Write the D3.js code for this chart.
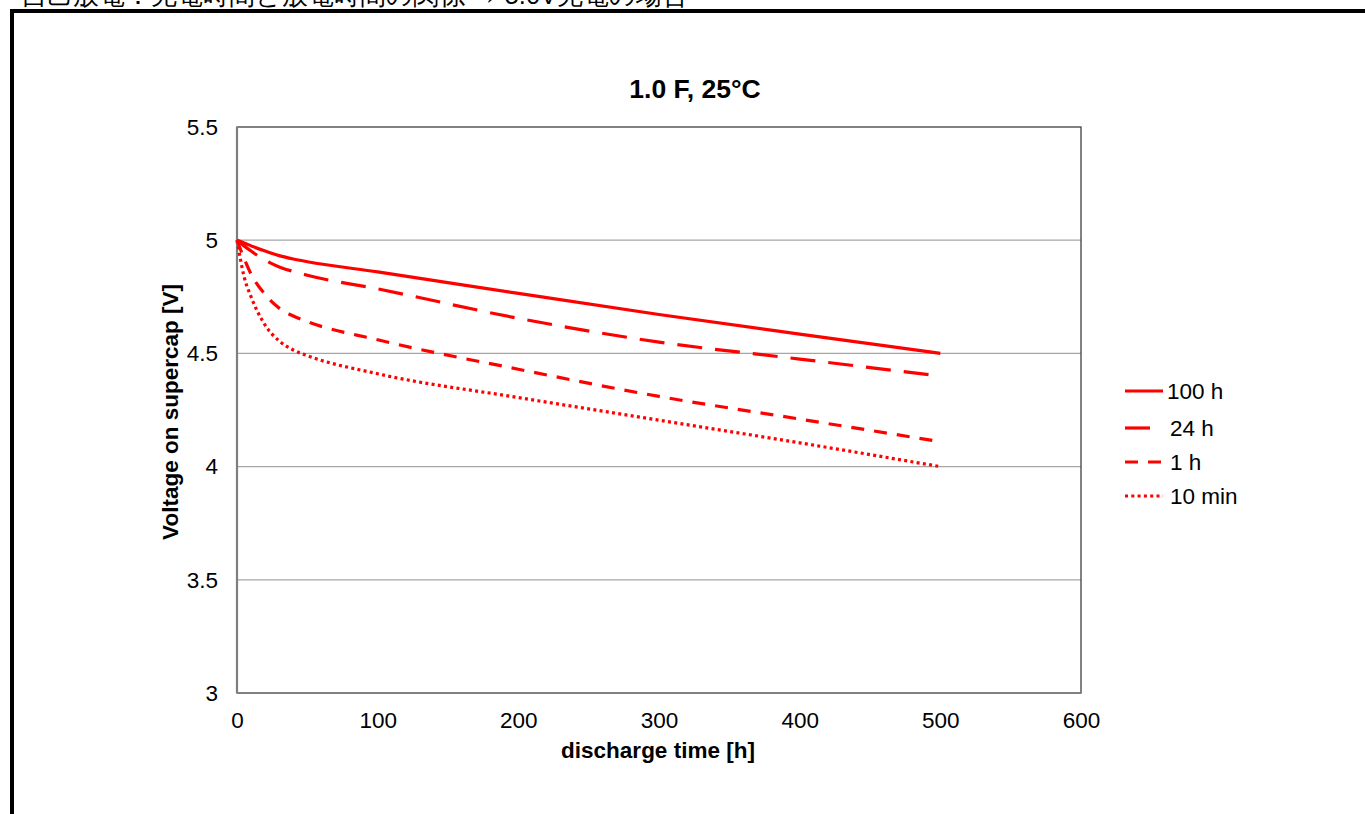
<!DOCTYPE html>
<html>
<head>
<meta charset="utf-8">
<script src="https://cdn.jsdelivr.net/npm/d3@7"></script>
<style>
  body { margin: 0; background: #fff; overflow: hidden; }
  text { font-family: "Liberation Sans", Arial, sans-serif; }
</style>
</head>
<body>
<div id="chart"></div>
<script>
const width = 1365;
const height = 814;

// hours of discharge
const hours = [0, 5, 10, 20, 30, 40, 50, 100, 200, 300, 400, 500];

// voltage for each charge time
const v100h = [5.0, 4.988, 4.975, 4.952, 4.932, 4.917, 4.905, 4.86, 4.765, 4.672, 4.585, 4.5];
const v24h = [5.0, 4.975, 4.952, 4.912, 4.882, 4.862, 4.845, 4.785, 4.655, 4.55, 4.475, 4.4];
const v1h = [5.0, 4.92, 4.85, 4.76, 4.70, 4.665, 4.64, 4.56, 4.43, 4.31, 4.21, 4.11];
const v10min = [5.0, 4.84, 4.75, 4.625, 4.555, 4.515, 4.49, 4.41, 4.305, 4.205, 4.105, 4.0];

const seriesNames = ["100 h", "24 h", "1 h", "10 min"];
const seriesValues = [v100h, v24h, v1h, v10min];
const dashes = [null, "25,13", "13,10", "3,3.3"];

const yTicks = [3, 3.5, 4, 4.5, 5, 5.5];
const xTicks = [0, 100, 200, 300, 400, 500, 600];

const svg = d3.select("#chart")
    .append("svg")
    .attr("width", width)
    .attr("height", height);

// cut-off caption and black frame at the top of the page
svg.append("text")
    .attr("x", 21)
    .attr("y", 4)
    .attr("font-family", "'Noto Sans CJK JP', sans-serif")
    .attr("font-size", 25.5)
    .attr("fill", "#000")
    .text("自己放電：充電時間と放電時間の関係 → 5.0V充電の場合");

svg.append("rect")
    .attr("x", 12)
    .attr("y", 11)
    .attr("width", 1400)
    .attr("height", 900)
    .attr("fill", "none")
    .attr("stroke", "#000")
    .attr("stroke-width", 4);

const plot = { left: 237, right: 1081, top: 127, bottom: 693 };

const x = d3.scaleLinear().domain([0, 600]).range([plot.left, plot.right]);
const y = d3.scaleLinear().domain([3, 5.5]).range([plot.bottom, plot.top]);

// gridlines
svg.append("g")
    .selectAll("line")
    .data(yTicks.slice(1, -1))
    .enter()
    .append("line")
    .attr("x1", plot.left)
    .attr("x2", plot.right)
    .attr("y1", d => y(d))
    .attr("y2", d => y(d))
    .attr("stroke", "#a6a6a6")
    .attr("stroke-width", 1.3);

// plot area border
svg.append("rect")
    .attr("x", plot.left)
    .attr("y", plot.top)
    .attr("width", plot.right - plot.left)
    .attr("height", plot.bottom - plot.top)
    .attr("fill", "none")
    .attr("stroke", "#404040")
    .attr("stroke-width", 1.3);

svg.append("line")
    .attr("x1", plot.left).attr("x2", plot.left)
    .attr("y1", plot.top).attr("y2", plot.bottom)
    .attr("stroke", "#7f7f7f")
    .attr("stroke-width", 2.2);
svg.append("line")
    .attr("x1", plot.left).attr("x2", plot.right)
    .attr("y1", plot.bottom).attr("y2", plot.bottom)
    .attr("stroke", "#7f7f7f")
    .attr("stroke-width", 1.6);

// axes labels
const yAxis = svg.append("g")
    .attr("transform", `translate(${plot.left - 16},0)`)
    .call(d3.axisLeft(y).tickValues(yTicks).tickSize(0).tickFormat(d3.format("")));
yAxis.select(".domain").remove();
yAxis.selectAll("text")
    .attr("font-size", 22.5)
    .attr("font-family", "'Liberation Sans', Arial, sans-serif")
    .attr("fill", "#000");

const xAxis = svg.append("g")
    .attr("transform", `translate(0,${plot.bottom + 16})`)
    .call(d3.axisBottom(x).tickValues(xTicks).tickSize(0).tickFormat(d3.format("")));
xAxis.select(".domain").remove();
xAxis.selectAll("text")
    .attr("font-size", 22.5)
    .attr("font-family", "'Liberation Sans', Arial, sans-serif")
    .attr("fill", "#000");

// titles
svg.append("text")
    .attr("x", 695)
    .attr("y", 98)
    .attr("text-anchor", "middle")
    .attr("font-size", 26.5)
    .attr("font-weight", "bold")
    .text("1.0 F, 25°C");

svg.append("text")
    .attr("x", 658)
    .attr("y", 758)
    .attr("text-anchor", "middle")
    .attr("font-size", 22.5)
    .attr("font-weight", "bold")
    .text("discharge time [h]");

svg.append("text")
    .attr("transform", "translate(178,412) rotate(-90)")
    .attr("text-anchor", "middle")
    .attr("font-size", 22.5)
    .attr("font-weight", "bold")
    .text("Voltage on supercap [V]");

// series lines
const line = d3.line()
    .x((d, i) => x(hours[i]))
    .y(d => y(d))
    .curve(d3.curveMonotoneX);

svg.append("g")
    .selectAll("path")
    .data(seriesValues)
    .enter()
    .append("path")
    .attr("d", d => line(d))
    .attr("fill", "none")
    .attr("stroke", "#ff0000")
    .attr("stroke-width", 3.2)
    .attr("stroke-dasharray", (d, i) => dashes[i]);

// legend
const legendY = [391, 428, 462, 496];
const legend = svg.append("g");

legend.selectAll("line")
    .data(seriesNames)
    .enter()
    .append("line")
    .attr("x1", 1125)
    .attr("x2", 1163)
    .attr("y1", (d, i) => legendY[i])
    .attr("y2", (d, i) => legendY[i])
    .attr("stroke", "#ff0000")
    .attr("stroke-width", 3.2)
    .attr("stroke-dasharray", (d, i) => dashes[i]);

legend.selectAll("text")
    .data(seriesNames)
    .enter()
    .append("text")
    .attr("x", (d, i) => i === 0 ? 1167 : 1170)
    .attr("y", (d, i) => legendY[i])
    .attr("dy", "0.35em")
    .attr("font-size", 22.5)
    .text(d => d);
</script>
</body>
</html>
